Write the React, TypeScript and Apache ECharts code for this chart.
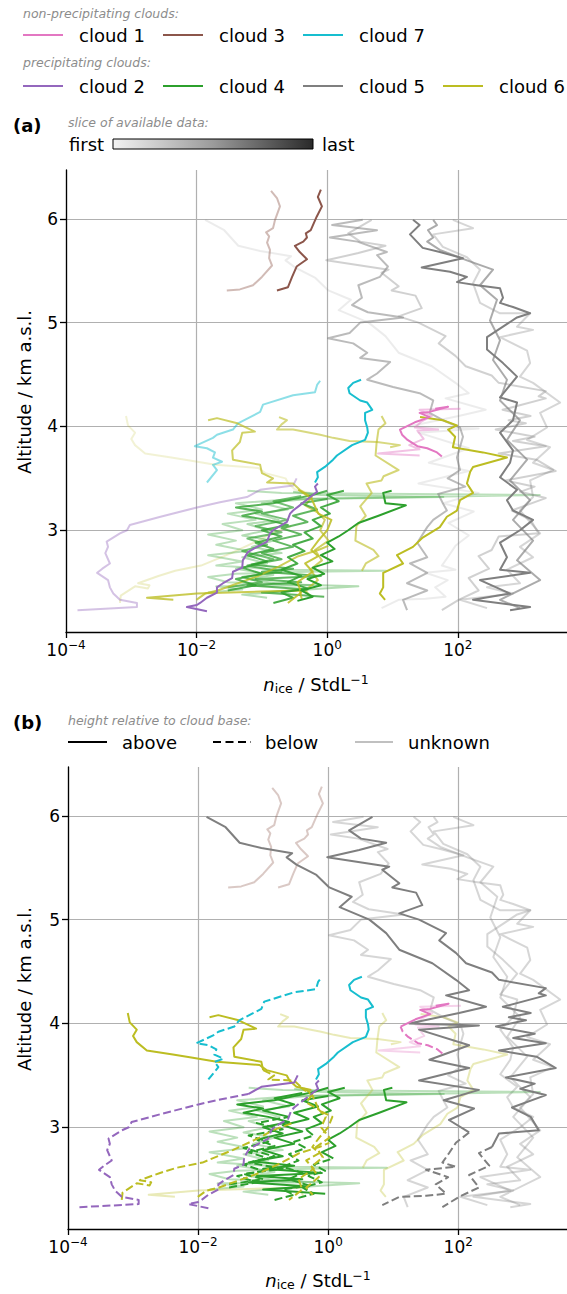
import { useEffect, useRef } from "react"
import * as echarts from "echarts"

const FONT = "DejaVu Sans"

const cloudColors: Record<number, string> = {
  1: "#e377c2",
  2: "#9467bd",
  3: "#8c564b",
  4: "#2ca02c",
  5: "#7f7f7f",
  6: "#bcbd22",
  7: "#17becf",
}

const nonPrecipClouds = [1, 3, 7]
const precipClouds = [2, 4, 5, 6]

const xTicks = [1e-4, 1e-2, 1, 100]
const yTicks = [3, 4, 5, 6]

// profiles: [n_ice (StdL^-1), altitude (km a.s.l.)]
const cloud1First = [[110, 4.17], [26, 4.16], [40, 4.1], [28, 4.05], [22, 3.99], [50, 3.97], [24, 3.96], [30, 3.88], [18, 3.82], [26, 3.78], [6, 3.74], [26, 3.72]]
const cloud1Last = [[57, 3.71], [48, 3.75], [34, 3.79], [24, 3.81], [17, 3.87], [14, 3.92], [13, 3.97], [22, 4.04], [37, 4.09], [26, 4.13], [37, 4.14], [71, 4.19], [45, 4.17]]

const cloud2First = [[1.5e-4, 2.23], [1.22e-3, 2.26], [1.22e-3, 2.3], [6.7e-4, 2.33], [5.3e-4, 2.39], [4.7e-4, 2.45], [4.4e-4, 2.52], [3.0e-4, 2.59], [3.6e-4, 2.63], [4.7e-4, 2.68], [4.0e-4, 2.78], [4.4e-4, 2.84], [4.2e-4, 2.89], [6.7e-4, 2.97], [8.6e-4, 3.0], [9.5e-4, 3.05], [2.8e-3, 3.13], [0.0101, 3.22], [0.0228, 3.27], [0.059, 3.32], [0.094, 3.39], [0.3, 3.43], [0.34, 3.5]]
const cloud2Last = [[0.0144, 2.22], [0.0071, 2.26], [0.0101, 2.28], [0.0113, 2.3], [0.0144, 2.35], [0.0205, 2.4], [0.0205, 2.45], [0.0254, 2.49], [0.035, 2.54], [0.036, 2.6], [0.05, 2.64], [0.051, 2.71], [0.061, 2.79], [0.084, 2.84], [0.12, 2.89], [0.133, 2.97], [0.148, 3.0], [0.242, 3.08], [0.27, 3.16], [0.3, 3.19], [0.38, 3.24], [0.55, 3.32], [0.7, 3.37], [0.65, 3.42], [0.72, 3.45]]

const cloud3First = [[0.029, 5.31], [0.046, 5.32], [0.073, 5.36], [0.1, 5.44], [0.143, 5.55], [0.129, 5.62], [0.133, 5.7], [0.12, 5.77], [0.129, 5.83], [0.116, 5.87], [0.148, 5.91], [0.159, 5.99], [0.189, 6.12], [0.17, 6.2], [0.138, 6.27]]
const cloud3Last = [[0.17, 5.31], [0.25, 5.34], [0.29, 5.44], [0.34, 5.54], [0.49, 5.61], [0.38, 5.68], [0.32, 5.74], [0.43, 5.78], [0.49, 5.82], [0.47, 5.86], [0.56, 5.89], [0.69, 6.02], [0.83, 6.12], [0.72, 6.21], [0.8, 6.28]]

const cloud4A = [[0.015, 2.4], [0.05, 2.43], [0.02, 2.46], [0.6, 2.47], [0.03, 2.5], [0.015, 2.55], [0.04, 2.58], [0.5, 2.6], [8, 2.61], [0.2, 2.62], [0.02, 2.66], [0.05, 2.7], [0.015, 2.76], [0.06, 2.8], [0.02, 2.86], [0.04, 2.9], [0.015, 2.96], [0.05, 3.0], [0.025, 3.06], [0.08, 3.1], [0.03, 3.16], [0.1, 3.2], [0.04, 3.26], [0.3, 3.3], [1800, 3.34], [0.2, 3.36], [0.06, 3.38]]
const cloud4B = [[0.12, 2.35], [0.05, 2.38], [0.3, 2.42], [3, 2.46], [0.2, 2.48], [0.06, 2.53], [0.15, 2.57], [0.04, 2.63], [0.12, 2.68], [0.05, 2.74], [0.2, 2.78], [0.07, 2.84], [0.15, 2.9], [0.05, 2.95], [0.12, 3.0], [0.06, 3.06], [0.18, 3.1], [0.08, 3.16], [0.25, 3.2], [0.1, 3.26], [0.5, 3.3], [60, 3.32], [0.8, 3.34], [0.3, 3.37]]
const cloud4C = [[0.03, 2.42], [0.08, 2.47], [0.04, 2.53], [0.1, 2.58], [0.05, 2.64], [0.12, 2.7], [0.06, 2.76], [0.15, 2.82], [0.08, 2.88], [0.2, 2.94], [0.1, 3.0], [0.25, 3.05], [0.12, 3.1], [0.05, 3.14], [0.1, 3.18], [0.04, 3.22], [0.15, 3.26], [0.3, 3.3], [0.6, 3.34], [1.0, 3.38]]
const cloud4D = [[0.35, 2.32], [0.6, 2.36], [0.4, 2.42], [0.8, 2.47], [0.5, 2.53], [0.9, 2.58], [0.6, 2.64], [1.2, 2.7], [0.8, 2.76], [1.3, 2.82], [1.0, 2.88], [1.5, 2.94], [2.1, 3.0], [3.0, 3.07], [6.1, 3.14], [16, 3.24], [7.8, 3.26], [7.2, 3.36], [9.7, 3.38]]
const cloud4E = [[0.15, 2.3], [0.3, 2.35], [0.2, 2.4], [0.5, 2.44], [0.25, 2.5], [0.4, 2.56], [0.2, 2.62], [0.35, 2.68], [0.25, 2.74], [0.45, 2.8], [0.3, 2.86], [0.6, 2.92], [0.45, 2.98], [0.8, 3.04], [0.6, 3.1], [1.1, 3.16], [0.8, 3.22], [1.5, 3.28], [1.0, 3.34], [1.8, 3.38]]
const cloud4F = [[0.9, 2.36], [0.1, 2.4], [0.5, 2.43], [0.06, 2.47], [0.4, 2.5], [0.08, 2.53], [0.8, 2.56], [0.1, 2.6], [0.3, 2.63], [0.07, 2.67], [0.2, 2.72], [0.1, 2.78], [0.3, 2.84], [0.15, 2.9], [0.4, 2.96], [0.2, 3.02], [0.5, 3.08], [0.3, 3.14], [0.7, 3.2], [0.4, 3.26], [1.0, 3.3]]
const cloud4G = [[0.03, 2.45], [0.1, 2.5], [0.05, 2.55], [0.2, 2.6], [0.06, 2.66], [0.15, 2.72], [0.05, 2.8], [0.12, 2.86], [0.06, 2.92], [0.2, 2.98], [0.08, 3.04], [0.25, 3.1], [0.1, 3.16], [0.3, 3.22], [0.15, 3.28], [0.4, 3.33]]

const cloud5A = [[0.0135, 5.99], [0.0265, 5.89], [0.0435, 5.74], [0.094, 5.69], [0.28, 5.64], [0.23, 5.6], [0.325, 5.53], [0.66, 5.43], [1.04, 5.31], [2.3, 5.22], [1.5, 5.12], [4.3, 5.0], [7.8, 4.87], [12.4, 4.71], [40, 4.58], [92, 4.42], [147, 4.32], [65, 4.27], [267, 4.16], [103, 4.1], [17.6, 4.0], [208, 3.98], [25, 3.94], [147, 3.79], [36, 3.65], [147, 3.57], [25, 3.45], [208, 3.36], [60, 3.26], [175, 3.18], [72, 3.07], [147, 2.95], [92, 2.85], [72, 2.75], [57, 2.66], [92, 2.62], [32, 2.59], [70, 2.52], [45, 2.45], [65, 2.36], [32, 2.34], [12.4, 2.33], [6.8, 2.25]]
const cloud5B = [[4.8, 5.99], [2.1, 5.86], [3.2, 5.78], [7.8, 5.74], [3.0, 5.67], [0.97, 5.6], [8.7, 5.51], [6.8, 5.48], [12.4, 5.35], [9.7, 5.31], [22.5, 5.26], [28, 5.14], [12.4, 5.06], [25, 5.0], [65, 4.87], [51, 4.8], [92, 4.68], [132, 4.58], [330, 4.49], [423, 4.42], [2220, 4.34], [1730, 4.29], [2220, 4.27], [485, 4.16], [1300, 4.1], [600, 4.06], [1100, 4.03], [380, 3.97], [1500, 3.9], [700, 3.86], [2220, 3.81], [423, 3.74], [1600, 3.68], [3160, 3.57], [540, 3.48], [1500, 3.42], [900, 3.37], [2220, 3.31], [670, 3.19], [1300, 3.1], [1730, 2.97], [423, 2.94], [330, 2.81], [208, 2.75], [300, 2.63], [147, 2.54], [208, 2.42], [103, 2.33], [57, 2.23]]
const cloud5C = [[3.5, 5.99], [1.19, 5.94], [5.8, 5.89], [1.1, 5.82], [2.9, 5.78], [8.2, 5.68], [5.8, 5.65], [8.5, 5.54], [6.4, 5.44], [3.0, 5.36], [3.4, 5.24], [2.4, 5.17], [4.2, 5.1], [14.5, 5.05], [3.2, 5.0], [2.2, 4.9], [1.03, 4.85], [2.5, 4.8], [4.1, 4.71], [3.2, 4.66], [9.2, 4.62], [5.8, 4.51], [4.1, 4.45], [10.2, 4.38], [26, 4.32], [42, 4.25], [37, 4.13], [59, 4.06], [108, 3.99], [120, 3.9], [97, 3.7], [108, 3.58], [70, 3.5], [130, 3.42], [50, 3.35], [59, 3.26], [68, 3.19], [42, 3.1], [34, 3.03], [24, 2.88], [34, 2.74], [18.5, 2.68], [34, 2.59], [16.7, 2.49], [34, 2.42], [14.5, 2.33], [16.7, 2.23]]
const cloud5D = [[20.6, 5.99], [26, 5.94], [18.5, 5.85], [29, 5.72], [53, 5.68], [120, 5.62], [28, 5.53], [76, 5.49], [138, 5.44], [97, 5.39], [197, 5.36], [443, 5.33], [492, 5.24], [443, 5.19], [700, 5.15], [1280, 5.09], [807, 5.05], [280, 4.86], [280, 4.74], [492, 4.61], [807, 4.48], [443, 4.28], [807, 4.23], [700, 4.06], [443, 3.94], [700, 3.77], [631, 3.65], [443, 3.51], [807, 3.39], [566, 3.29], [700, 3.19], [1420, 3.1], [895, 3.0], [443, 2.88], [566, 2.74], [443, 2.62], [1280, 2.59], [219, 2.52], [631, 2.39], [171, 2.33], [1280, 2.26], [631, 2.23]]
const cloud5E = [[84, 5.99], [171, 5.91], [42, 5.85], [59, 5.73], [138, 5.63], [219, 5.51], [171, 5.38], [219, 5.19], [443, 5.09], [1280, 5.09], [807, 4.96], [1420, 4.93], [443, 4.86], [1150, 4.73], [1280, 4.61], [895, 4.48], [1420, 4.42], [3680, 4.23], [1820, 4.13], [2320, 3.99], [1150, 3.87], [2580, 3.8], [1420, 3.65], [2870, 3.58], [1280, 3.48], [1420, 3.32], [895, 3.19], [1820, 2.97], [895, 2.84], [1420, 2.74], [566, 2.62], [895, 2.49], [280, 2.45], [700, 2.39], [108, 2.33], [280, 2.25]]
const cloud5F = [[42, 5.99], [48, 5.94], [35, 5.89], [42, 5.82], [34, 5.78], [53, 5.7], [138, 5.6], [346, 5.51], [219, 5.36], [398, 5.22], [311, 5.02], [443, 4.83], [346, 4.64], [566, 4.45], [443, 4.25], [895, 4.06], [566, 3.87], [1150, 3.68], [631, 3.48], [1280, 3.29], [700, 3.1], [1420, 2.9], [807, 2.71], [1820, 2.52], [443, 2.33], [895, 2.25]]

const cloud6A = [[8.3e-4, 4.1], [8.9e-4, 4.01], [1.14e-3, 3.94], [1.0e-3, 3.88], [1.14e-3, 3.82], [1.63e-3, 3.74], [4.1e-3, 3.7], [8.3e-3, 3.67], [0.0193, 3.63], [0.088, 3.6], [0.113, 3.55], [0.23, 3.5], [0.254, 3.45], [0.325, 3.39], [0.55, 3.36]]
const cloud6B = [[6.7e-4, 2.3], [6.9e-4, 2.37], [1.14e-3, 2.46], [1.8e-3, 2.44], [1.9e-3, 2.47], [1.27e-3, 2.49], [2.6e-3, 2.56], [4.7e-3, 2.61], [0.0117, 2.66], [0.034, 2.78], [0.088, 2.9], [0.14, 2.97], [0.28, 3.04]]
const cloud6C = [[4.4e-3, 2.33], [1.74e-3, 2.35], [0.0101, 2.39], [0.094, 2.41], [0.38, 2.42], [0.41, 2.33]]
const cloud6D = [[0.015, 4.06], [0.0205, 4.08], [0.042, 4.03], [0.078, 3.95], [0.05, 3.94], [0.046, 3.85], [0.035, 3.77], [0.036, 3.68], [0.094, 3.63], [0.1, 3.55], [0.148, 3.5], [0.12, 3.46], [0.3, 3.45], [0.38, 3.39], [0.58, 3.32], [0.46, 3.24], [0.72, 3.17], [0.92, 3.1], [0.78, 3.0], [1.05, 2.9], [0.65, 2.81], [0.83, 2.71], [0.55, 2.62], [0.72, 2.52], [0.46, 2.42], [0.58, 2.35]]
const cloud6E = [[0.183, 4.09], [0.242, 4.06], [0.2, 4.02], [0.17, 3.97], [0.3, 3.97], [0.78, 3.92], [1.23, 3.89], [2.2, 3.86], [5.8, 3.85], [13, 3.82], [9.2, 3.8]]
const cloud6F = [[6.8, 4.1], [7.8, 4.03], [6.1, 3.97], [5.7, 3.84], [5.5, 3.72], [12.4, 3.58], [7.3, 3.52], [6.8, 3.48], [4.0, 3.45], [4.8, 3.36], [3.2, 3.23], [3.9, 3.14], [2.8, 3.04], [2.7, 2.9], [5.1, 2.81], [6.1, 2.75], [3.9, 2.68], [3.4, 2.61]]
const cloud6G = [[26.4, 4.09], [59, 4.06], [97, 4.01], [71, 3.97], [91, 3.9], [84, 3.8], [243, 3.75], [566, 3.7], [171, 3.61], [154, 3.56], [138, 3.45], [171, 3.36], [108, 3.29], [97, 3.19], [68, 3.13], [53, 3.03], [29, 2.93], [20.6, 2.84], [11.7, 2.76], [14.5, 2.68], [7.2, 2.59], [7.2, 2.45], [6.4, 2.39], [7.7, 2.33]]
const cloud6H = [[0.36, 3.39], [0.57, 3.31], [0.73, 3.16], [1.16, 3.1], [1.0, 3.0], [0.73, 2.9], [0.57, 2.81], [0.73, 2.75], [0.46, 2.68], [0.6, 2.6], [0.35, 2.5], [0.4, 2.4], [0.25, 2.3]]
const cloud6I = [[0.0099, 2.33], [0.0135, 2.39], [0.021, 2.42], [0.043, 2.49], [0.088, 2.56], [0.18, 2.65], [0.36, 2.75], [0.73, 2.81], [1.04, 2.85]]

const cloud7First = [[0.0144, 3.46], [0.0205, 3.58], [0.0178, 3.63], [0.0245, 3.66], [0.0178, 3.7], [0.0191, 3.75], [0.0144, 3.79], [0.0094, 3.81], [0.0178, 3.89], [0.0205, 3.92], [0.036, 3.97], [0.043, 4.03], [0.094, 4.14], [0.104, 4.21], [0.3, 4.3], [0.65, 4.33], [0.7, 4.4], [0.78, 4.44]]
const cloud7Last = [[0.65, 3.46], [0.72, 3.51], [0.7, 3.56], [0.92, 3.61], [1.23, 3.68], [1.41, 3.72], [2.4, 3.82], [3.8, 3.87], [4.2, 3.94], [4.1, 3.99], [3.8, 4.06], [3.8, 4.13], [4.9, 4.16], [4.1, 4.23], [3.2, 4.25], [2.2, 4.32], [2.1, 4.37], [2.5, 4.42], [3.3, 4.45]]

// slice: 0 = first, 1 = last; base: cloud base altitude (km), null = unknown
const profiles = [
  { cloud: 5, slice: 0, base: 2.95, data: cloud5A },
  { cloud: 5, slice: 0.25, base: 2.85, data: cloud5B },
  { cloud: 5, slice: 0.45, base: null, data: cloud5C },
  { cloud: 5, slice: 0.2, base: null, data: cloud5E },
  { cloud: 5, slice: 0.6, base: null, data: cloud5F },
  { cloud: 5, slice: 1, base: null, data: cloud5D },
  { cloud: 3, slice: 0.3, base: null, data: cloud3First },
  { cloud: 3, slice: 1, base: null, data: cloud3Last },
  { cloud: 4, slice: 0.2, base: null, data: cloud4A },
  { cloud: 4, slice: 0.25, base: null, data: cloud4B },
  { cloud: 4, slice: 0.6, base: 3.1, data: cloud4G },
  { cloud: 4, slice: 0.7, base: 0, data: cloud4F },
  { cloud: 4, slice: 0.75, base: 2.85, data: cloud4C },
  { cloud: 4, slice: 0.85, base: 3.0, data: cloud4E },
  { cloud: 4, slice: 1, base: 2.7, data: cloud4D },
  { cloud: 6, slice: 0.05, base: 0, data: cloud6A },
  { cloud: 6, slice: 0.1, base: 9, data: cloud6B },
  { cloud: 6, slice: 0.5, base: null, data: cloud6E },
  { cloud: 6, slice: 0.55, base: null, data: cloud6F },
  { cloud: 6, slice: 0.65, base: 3.55, data: cloud6D },
  { cloud: 6, slice: 0.7, base: 9, data: cloud6I },
  { cloud: 6, slice: 0.75, base: null, data: cloud6C },
  { cloud: 6, slice: 0.85, base: 9, data: cloud6H },
  { cloud: 6, slice: 1, base: null, data: cloud6G },
  { cloud: 2, slice: 0.3, base: 3.3, data: cloud2First },
  { cloud: 2, slice: 1, base: 3.3, data: cloud2Last },
  { cloud: 7, slice: 0.4, base: 9, data: cloud7First },
  { cloud: 7, slice: 1, base: 0, data: cloud7Last },
  { cloud: 1, slice: 0.35, base: null, data: cloud1First },
  { cloud: 1, slice: 1, base: 4.0, data: cloud1Last },
]

const DASH = [8, 3.5]
const LW = 2

// split a profile into runs above / below the cloud base
function splitByBase(pts: number[][], base: number) {
  const segs: { dashed: boolean; pts: number[][] }[] = []
  for (let i = 0; i < pts.length - 1; i++) {
    const dashed = (pts[i][1] + pts[i + 1][1]) / 2 < base
    const last = segs[segs.length - 1]
    if (last && last.dashed === dashed) last.pts.push(pts[i + 1])
    else segs.push({ dashed, pts: [pts[i], pts[i + 1]] })
  }
  return segs
}

const lineSeries = (idx: number, data: number[][], color: string, opacity: number, dashed: boolean, z: number) => ({
  type: "line",
  xAxisIndex: idx,
  yAxisIndex: idx,
  data,
  symbol: "none",
  showSymbol: false,
  silent: true,
  z,
  lineStyle: { color, width: LW, opacity, type: dashed ? DASH : "solid", cap: "butt", join: "round" },
})

const supLabel = (v: number) => {
  const e = Math.round(Math.log10(v))
  return `{b|10}{s|${e < 0 ? "\u2212" : ""}${Math.abs(e)}}`
}

const axisRich = {
  b: { fontSize: 17, fontFamily: FONT, color: "#000" },
  s: { fontSize: 12, fontFamily: FONT, color: "#000", padding: [0, 0, 10, 0] },
}

const makeAxes = (idx: number) => {
  const xAxis = {
    type: "log",
    logBase: 10,
    gridIndex: idx,
    min: 1e-4,
    max: 4700,
    axisLine: { show: true, lineStyle: { color: "#000", width: 1.3 } },
    axisTick: { show: true, length: 6, lineStyle: { color: "#000", width: 1.3 }, customValues: xTicks },
    axisLabel: { customValues: xTicks, formatter: supLabel, rich: axisRich, margin: 7 },
    splitLine: { show: true, showMinLine: true, showMaxLine: true, lineStyle: { color: "#b0b0b0", width: 1.2 } },
    minorTick: { show: false },
  }
  const yAxis = {
    type: "value",
    gridIndex: idx,
    min: 2.02,
    max: 6.47,
    axisLine: { show: true, lineStyle: { color: "#000", width: 1.3 } },
    axisTick: { show: true, length: 6, lineStyle: { color: "#000", width: 1.3 }, customValues: yTicks },
    axisLabel: { customValues: yTicks, color: "#000", fontSize: 17, fontFamily: FONT, margin: 8 },
    splitLine: { show: true, showMaxLine: true, showMinLine: true, lineStyle: { color: "#b0b0b0", width: 1.2 } },
  }
  return { xAxis, yAxis }
}

const txt = (text: string, x: number, y: number, o: any = {}) => ({
  type: "text",
  x,
  y,
  silent: true,
  rotation: o.rotation || 0,
  style: {
    text,
    fill: o.fill || "#000",
    fontSize: o.size || 18,
    fontFamily: FONT,
    fontStyle: o.italic ? "italic" : "normal",
    fontWeight: o.bold ? "bold" : "normal",
    textAlign: o.align || "left",
    align: o.align || "left",
    textVerticalAlign: "middle",
    verticalAlign: "middle",
    rich: o.rich,
  },
})

const seg = (x1: number, x2: number, y: number, stroke: string, dash?: number[]) => ({
  type: "line",
  silent: true,
  shape: { x1, y1: y, x2, y2: y },
  style: { stroke, lineWidth: 2.2, lineDash: dash, lineCap: "butt" },
})

const nameRich = {
  i: { fontSize: 18, fontFamily: FONT, fontStyle: "italic", color: "#000" },
  d: { fontSize: 12.5, fontFamily: FONT, color: "#000", padding: [8, 0, 0, 0] },
  t: { fontSize: 18, fontFamily: FONT, color: "#000" },
  p: { fontSize: 12.5, fontFamily: FONT, color: "#000", padding: [0, 0, 10, 0] },
}
const xName = "{i|n}{d|ice}{t| / StdL}{p|\u22121}"

export default function App() {
  const ref = useRef<HTMLDivElement>(null)

  useEffect(() => {
    if (!ref.current) return
    const chart = echarts.init(ref.current, undefined, { renderer: "svg" })

    const a = makeAxes(0)
    const b = makeAxes(1)

    const series: any[] = []
    const ordered = [...profiles].sort((p, q) => p.slice - q.slice)
    ordered.forEach((p, k) => {
      const color = cloudColors[p.cloud]
      series.push(lineSeries(0, p.data, color, 0.15 + 0.85 * p.slice, false, 2 + k * 0.01))
    })
    profiles.forEach((p, k) => {
      const color = cloudColors[p.cloud]
      if (p.base === null) {
        series.push(lineSeries(1, p.data, color, 0.32, false, 2 + k * 0.001))
      } else {
        splitByBase(p.data, p.base).forEach((s) => {
          series.push(lineSeries(1, s.pts, color, 1, s.dashed, 3 + k * 0.001))
        })
      }
    })

    const legendRow = (ids: number[], y: number) =>
      ids.flatMap((c, i) => {
        const x0 = 23 + i * 140
        return [seg(x0, x0 + 40, y, cloudColors[c]), txt(`cloud ${c}`, x0 + 56, y)]
      })

    const grey = "#8c8c8c"
    const graphic = [
      txt("non-precipitating clouds:", 23, 13, { size: 12.5, italic: true, fill: grey }),
      ...legendRow(nonPrecipClouds, 35),
      txt("precipitating clouds:", 23, 62, { size: 12.5, italic: true, fill: grey }),
      ...legendRow(precipClouds, 86),
      txt("(a)", 13, 125, { bold: true }),
      txt("slice of available data:", 68, 122, { size: 12.5, italic: true, fill: grey }),
      txt("first", 69, 144),
      {
        type: "rect",
        silent: true,
        shape: { x: 113, y: 139, width: 200, height: 10 },
        style: {
          fill: new echarts.graphic.LinearGradient(0, 0, 1, 0, [
            { offset: 0, color: "#f2f2f2" },
            { offset: 0.5, color: "#9b9b9b" },
            { offset: 1, color: "#2a2a2a" },
          ]),
          stroke: "#000",
          lineWidth: 1,
        },
      },
      txt("last", 322, 144),
      txt(xName, 316, 684, { rich: nameRich, align: "center" }),
      txt("Altitude / km a.s.l.", 24, 392, { align: "center", rotation: Math.PI / 2 }),
      txt("(b)", 13, 722, { bold: true }),
      txt("height relative to cloud base:", 68, 720, { size: 12.5, italic: true, fill: grey }),
      seg(68, 107, 742, "#000"),
      txt("above", 122, 742),
      seg(213, 251, 742, "#000", [8, 4.5]),
      txt("below", 265, 742),
      seg(355, 393, 742, "#c0c0c0"),
      txt("unknown", 408, 742),
      txt(xName, 318, 1280, { rich: nameRich, align: "center" }),
      txt("Altitude / km a.s.l.", 24, 989, { align: "center", rotation: Math.PI / 2 }),
    ]

    chart.setOption({
      animation: false,
      backgroundColor: "#fff",
      textStyle: { fontFamily: FONT },
      grid: [
        { left: 66, top: 170, width: 501, height: 462, containLabel: false },
        { left: 68, top: 767, width: 499, height: 462, containLabel: false },
      ],
      xAxis: [a.xAxis, b.xAxis],
      yAxis: [a.yAxis, b.yAxis],
      series,
      graphic,
    })

    return () => {
      chart.dispose()
    }
  }, [])

  return (
    <div
      ref={ref}
      style={{ position: "fixed", left: 0, top: 0, width: 567, height: 1294 }}
    />
  )
}
